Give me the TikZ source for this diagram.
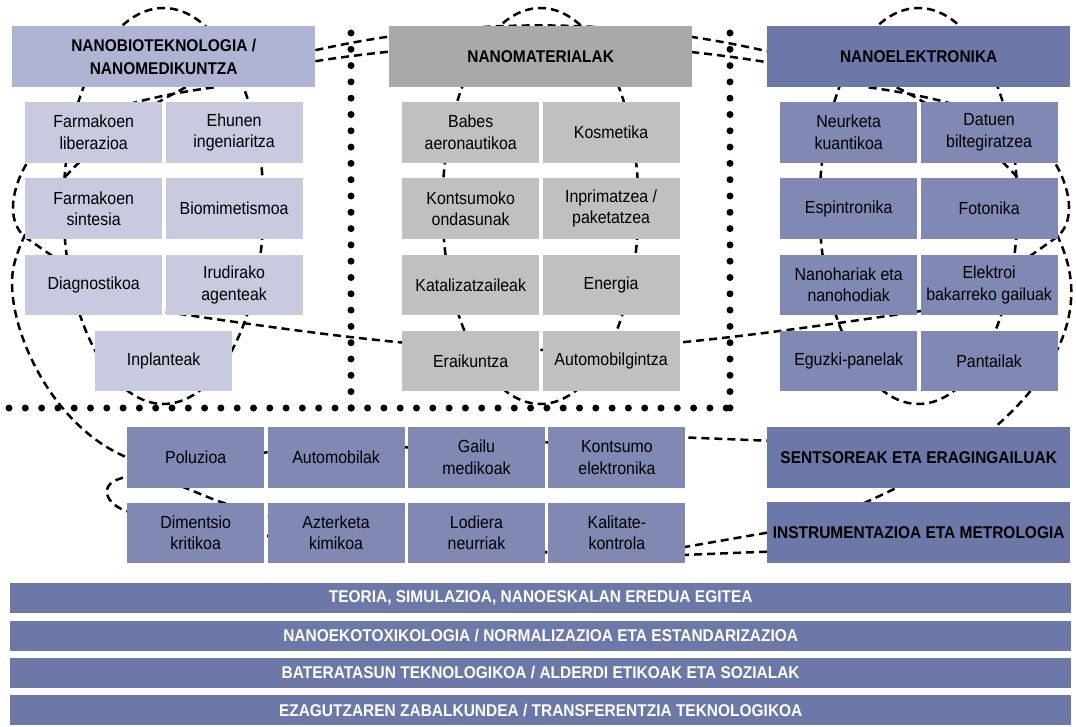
\documentclass[tikz,border=0pt]{standalone}
\usepackage{fontspec}
\setmainfont{Liberation Sans}[FakeStretch=0.91]
\usetikzlibrary{positioning}
\usepackage{xcolor}
\definecolor{bioHead}{RGB}{176,180,212}
\definecolor{bioBox}{RGB}{200,202,224}
\definecolor{matHead}{RGB}{169,169,169}
\definecolor{matBox}{RGB}{192,192,192}
\definecolor{elekHead}{RGB}{107,120,168}
\definecolor{elekBox}{RGB}{128,136,180}
\pgfdeclarelayer{behind}
\pgfsetlayers{behind,main}

\begin{document}
\begin{tikzpicture}[x=1pt, y=-1pt,
    box/.style={rectangle, inner sep=2pt, minimum width=137pt, minimum height=60.5pt, align=center, font=\fontsize{17.5}{21.5}\selectfont},
    head/.style={rectangle, inner sep=0pt, minimum width=303pt, minimum height=61pt, align=center, font=\bfseries\fontsize{17}{23}\selectfont},
    bar/.style={rectangle, fill=elekHead, text=white, inner sep=0pt, minimum width=1061pt, minimum height=30pt, font=\bfseries\fontsize{17}{20}\selectfont},
    link/.style={draw=black, line width=2.5pt, dash pattern=on 8pt off 5pt},
    dots/.style={line width=7pt, line cap=round, dash pattern=on 0pt off 16.3pt}]
    \useasboundingbox (0,0) rectangle (1076,727);

    % headers
    \node[head, fill=bioHead, anchor=north west] (bio) at (12,26) {NANOBIOTEKNOLOGIA /\\NANOMEDIKUNTZA};
    \node[head, fill=matHead, anchor=north west] (mat) at (389,26) {NANOMATERIALAK};
    \node[head, fill=elekHead, anchor=north west] (elek) at (767,26) {NANOELEKTRONIKA};

    % nanobio
    \node[box, fill=bioBox, anchor=north west] (flib) at (25,102) {Farmakoen\\liberazioa};
    \node[box, fill=bioBox, right=3pt of flib] (ehun) {Ehunen\\ingeniaritza};
    \node[box, fill=bioBox, below=15.3pt of flib] (fsin) {Farmakoen\\sintesia};
    \node[box, fill=bioBox, right=3pt of fsin] (biom) {Biomimetismoa};
    \node[box, fill=bioBox, below=15.3pt of fsin] (diag) {Diagnostikoa};
    \node[box, fill=bioBox, right=3pt of diag] (irud) {Irudirako\\agenteak};
    \node[box, fill=bioBox, below=15.3pt of diag, xshift=70pt] (inpl) {Inplanteak};

    % nanomaterialak
    \node[box, fill=matBox, anchor=north west] (babe) at (402,102) {Babes\\aeronautikoa};
    \node[box, fill=matBox, right=3pt of babe] (kosm) {Kosmetika};
    \node[box, fill=matBox, below=15.3pt of babe] (kont) {Kontsumoko\\ondasunak};
    \node[box, fill=matBox, right=3pt of kont] (inpr) {Inprimatzea /\\paketatzea};
    \node[box, fill=matBox, below=15.3pt of kont] (kata) {Katalizatzaileak};
    \node[box, fill=matBox, right=3pt of kata] (ener) {Energia};
    \node[box, fill=matBox, below=15.3pt of kata] (erai) {Eraikuntza};
    \node[box, fill=matBox, right=3pt of erai] (auto) {Automobilgintza};

    % nanoelektronika
    \node[box, fill=elekBox, anchor=north west] (neur) at (780,102) {Neurketa\\kuantikoa};
    \node[box, fill=elekBox, right=3pt of neur] (datu) {Datuen\\biltegiratzea};
    \node[box, fill=elekBox, below=15.3pt of neur] (espi) {Espintronika};
    \node[box, fill=elekBox, right=3pt of espi] (foto) {Fotonika};
    \node[box, fill=elekBox, below=15.3pt of espi] (nano) {Nanohariak eta\\nanohodiak};
    \node[box, fill=elekBox, right=3pt of nano] (elkb) {Elektroi\\bakarreko gailuak};
    \node[box, fill=elekBox, below=15.3pt of nano] (eguz) {Eguzki-panelak};
    \node[box, fill=elekBox, right=3pt of eguz] (pant) {Pantailak};

    % sentsoreak / instrumentazioa
    \node[box, fill=elekBox, anchor=north west] (polu) at (127,427) {Poluzioa};
    \node[box, fill=elekBox, right=3pt of polu] (aumo) {Automobilak};
    \node[box, fill=elekBox, right=3pt of aumo] (gail) {Gailu\\medikoak};
    \node[box, fill=elekBox, right=3pt of gail] (kele) {Kontsumo\\elektronika};
    \node[box, fill=elekBox, below=14.5pt of polu] (dime) {Dimentsio\\kritikoa};
    \node[box, fill=elekBox, right=3pt of dime] (azte) {Azterketa\\kimikoa};
    \node[box, fill=elekBox, right=3pt of azte] (lodi) {Lodiera\\neurriak};
    \node[box, fill=elekBox, right=3pt of lodi] (kali) {Kalitate-\\kontrola};
    \node[head, fill=elekHead, anchor=north west] (sens) at (767,427) {SENTSOREAK ETA ERAGINGAILUAK};
    \node[head, fill=elekHead, anchor=north west] (inst) at (767,502) {INSTRUMENTAZIOA ETA METROLOGIA};

    % bars
    \node[bar, anchor=north west] (teo) at (10,583) {TEORIA, SIMULAZIOA, NANOESKALAN EREDUA EGITEA};
    \node[bar, below=7pt of teo] (eko) {NANOEKOTOXIKOLOGIA / NORMALIZAZIOA ETA ESTANDARIZAZIOA};
    \node[bar, below=7pt of eko] (bat) {BATERATASUN TEKNOLOGIKOA / ALDERDI ETIKOAK ETA SOZIALAK};
    \node[bar, below=7pt of bat] (eza) {EZAGUTZAREN ZABALKUNDEA / TRANSFERENTZIA TEKNOLOGIKOA};

    \begin{pgfonlayer}{behind}
        % rings
        \draw[link] (163.5,206) ellipse [x radius=100, y radius=198];
        \draw[link] (540.5,206) ellipse [x radius=98, y radius=198];
        \draw[link] (918.5,206) ellipse [x radius=99, y radius=198];
        % top arcs
        \draw[link] ([yshift=6.5pt]bio.east) .. controls (465,17) and (617,17) .. ([yshift=5.5pt]elek.west);
        \draw[link] ([yshift=-4.5pt]bio.east) .. controls (465,38) and (617,38) .. ([yshift=-5.5pt]elek.west);
        % fourth row
        \coordinate (dL) at (140,308);
        \coordinate (dR) at (941,308);
        \draw[link] (dL) .. controls (300,332) and (430,350) .. (540.5,350) .. controls (651,350) and (781,332) .. (dR);
        % left side
        \draw[link] ([xshift=22pt]bio.south) .. controls (100,130) and (30,200) .. (14,265) .. controls (2,314) and (45,423) .. (polu.west) -- ([yshift=20pt]kele.east) -- ([yshift=17pt]sens.west);
        \draw[link] ([xshift=50pt]bio.south) .. controls (120,100) and (50,125) .. (27,163) .. controls (13,186) and (5,220) .. (25,237) -- (diag.center);
        % right side
        \draw[link] ([xshift=-22pt]elek.south) .. controls (982,130) and (1052,200) .. (1068,265) .. controls (1080,314) and (1060,370) .. ([xshift=76.5pt]sens.north) .. controls (962,456) and (920,478) .. ([xshift=-70pt,yshift=-8pt]inst.north);
        \draw[link] ([xshift=-50pt]elek.south) .. controls (962,100) and (1032,125) .. (1055,163) .. controls (1069,186) and (1077,220) .. (1057,237) -- (elkb.center);
        % bottom
        \draw[link] (inst.west) -- ([yshift=-14pt]kali.east) .. controls (500,560) and (300,550) .. (130,512) .. controls (105,506) and (95,482) .. (127,477) -- (polu.center);
        \draw[link] ([yshift=-19pt]inst.west) -- ([yshift=-22pt]kali.east) .. controls (520,556) and (330,540) .. (215,500) -- ([xshift=-30pt,yshift=8pt]polu.south);
    \end{pgfonlayer}

    % dotted frame
    \draw[dots] (9,408) -- (730,408);
    \draw[dots] (351,33) -- (351,408);
    \draw[dots] (730,33) -- (730,408);
\end{tikzpicture}
\end{document}
